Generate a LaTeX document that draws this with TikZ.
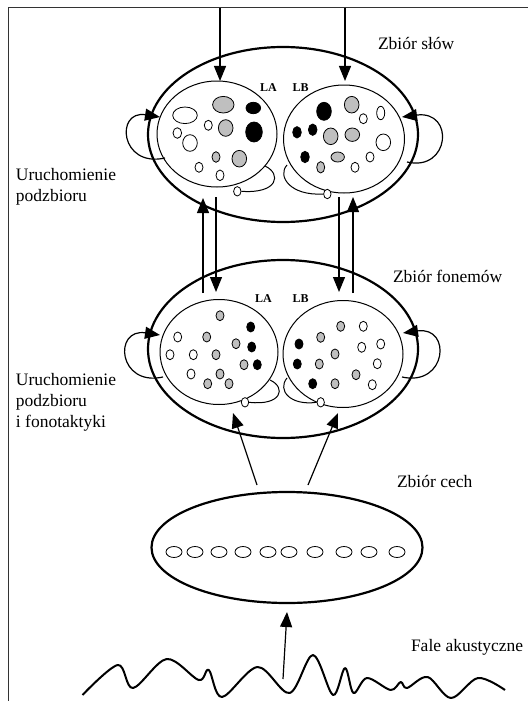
\documentclass[tikz,border=0pt]{standalone}
\usepackage{fontspec}
\setmainfont{Liberation Serif}
\usetikzlibrary{arrows.meta,shapes.geometric}
\newcommand\mydot[5]{\path[#1] (#2,#3) ellipse [x radius=#4pt, y radius=#5pt];}
\begin{document}
\begin{tikzpicture}[x=1pt,y=-1pt,
  big/.style={draw, ellipse, line width=2.2pt, inner sep=0pt, outer sep=0pt},
  inner/.style={draw, ellipse, line width=1pt, inner sep=0pt, outer sep=0pt},
  arr/.style={line width=1.2pt, -{Triangle[length=15pt,width=12pt]}},
  ln/.style={line width=1pt},
  wd/.style={draw, fill=white, line width=0.8pt},
  gd/.style={draw, fill=gray!50, line width=0.8pt},
  bd/.style={draw, fill=black, line width=0.8pt},
  lbl/.style={font=\fontsize{17.5}{21}\selectfont, inner sep=0pt, outer sep=0pt},
  lab/.style={font=\fontsize{12}{14}\selectfont\bfseries, inner sep=0pt, anchor=base west}
]
\useasboundingbox (0,0) rectangle (528,701);
% frame
\coordinate (fbl) at (8,701);
\coordinate (ftl) at (8,8);
\coordinate (ftr) at (528,8);
\draw[line width=1pt, black!80] (fbl) -- (ftl) -- (ftr);

% big ellipses
\node[big, minimum width=270pt, minimum height=175pt] (W) at (283,134.5) {};
\node[big, minimum width=270pt, minimum height=178pt] (P) at (283,349) {};
\node[big, minimum width=271pt, minimum height=111pt] (F) at (287,547.5) {};

% inner ellipses
\node[inner, minimum width=120pt, minimum height=106pt] (WA) at (217,134) {};
\node[inner, minimum width=121pt, minimum height=108pt] (WB) at (344,139) {};
\node[inner, minimum width=118pt, minimum height=105pt] (PA) at (219,352) {};
\node[inner, minimum width=120pt, minimum height=107pt] (PB) at (343,354) {};

% labels
\node[lab] (la1) at (260,91) {LA};
\node[lab] (lb1) at (292.5,91) {LB};
\node[lab] (la2) at (255,302.5) {LA};
\node[lab] (lb2) at (292.5,302.5) {LB};

\node[lbl, anchor=base west] (tw) at (378,50) {Zbiór słów};
\node[lbl, anchor=base west] (tp) at (393,282) {Zbiór fonemów};
\node[lbl, anchor=base west] (tc) at (397,487) {Zbiór cech};
\node[lbl, anchor=base west] (tf) at (411,651) {Fale akustyczne};
\node[lbl, anchor=north west, align=left] (tu1) at (16,168) {Uruchomienie\\podzbioru};
\node[lbl, anchor=north west, align=left] (tu2) at (16,373) {Uruchomienie\\podzbioru\\i fonotaktyki};

% dots top-left
\mydot{wd}{185}{115.3}{12.3}{8.3}
\mydot{gd}{223.3}{104.7}{10.7}{8.3}
\mydot{bd}{253.3}{108}{7.3}{5.7}
\mydot{wd}{208.3}{125.3}{4}{5}
\mydot{gd}{225.7}{128}{7.3}{8.3}
\mydot{bd}{254}{132}{8.3}{10}
\mydot{wd}{177.3}{133}{4.3}{5.3}
\mydot{wd}{190}{143}{7.3}{8.3}
\mydot{gd}{216}{157}{4}{5.3}
\mydot{gd}{239.3}{158.7}{7.3}{8.3}
\mydot{wd}{199}{167.3}{4}{5}
\mydot{wd}{220}{175.3}{4}{5.3}
% dots top-right
\mydot{bd}{324}{111.3}{7.3}{9}
\mydot{gd}{351.7}{104.7}{7.3}{8.3}
\mydot{wd}{363.3}{118.7}{4}{5}
\mydot{wd}{380.7}{113}{4}{6.7}
\mydot{bd}{297}{132.3}{4.3}{5.7}
\mydot{bd}{312.7}{129.7}{4.3}{5.7}
\mydot{gd}{330.7}{136.3}{7.3}{8.3}
\mydot{gd}{352.3}{134.7}{7.3}{6.7}
\mydot{wd}{383.3}{142.3}{7.3}{8.3}
\mydot{bd}{305}{157}{4.3}{5.7}
\mydot{gd}{337.7}{157}{6.7}{5}
\mydot{wd}{370}{157}{4}{5}
\mydot{gd}{320.7}{167.3}{4}{5.7}
\mydot{wd}{355}{167.3}{4}{5}
% dots middle-left
\mydot{gd}{220}{315.7}{4}{5}
\mydot{bd}{250.7}{327}{4}{5}
\mydot{wd}{177.7}{337}{4}{5}
\mydot{gd}{206.7}{337}{4}{5}
\mydot{gd}{236}{343.7}{4}{5}
\mydot{bd}{251.7}{347}{4}{5}
\mydot{wd}{170}{354.7}{4}{5}
\mydot{wd}{193.3}{354.7}{4}{5}
\mydot{gd}{216}{354.7}{4}{5}
\mydot{gd}{244}{364.7}{4}{5}
\mydot{bd}{257.3}{364.7}{4}{5}
\mydot{wd}{191}{374}{4}{5}
\mydot{gd}{220}{374}{4}{5}
\mydot{gd}{207.7}{383.7}{4}{5}
\mydot{gd}{229}{383.7}{4}{5}
% dots middle-right
\mydot{gd}{340.7}{326.3}{4}{5}
\mydot{wd}{363.3}{326.3}{4}{5}
\mydot{gd}{320.7}{337.3}{4}{5}
\mydot{bd}{299}{344}{4}{5}
\mydot{wd}{361.7}{347.3}{4}{5}
\mydot{wd}{380.7}{344}{4}{5}
\mydot{gd}{335}{354}{4}{5}
\mydot{bd}{297.3}{364}{4}{5}
\mydot{gd}{319.3}{364}{4}{5}
\mydot{wd}{377.3}{363.7}{4}{5}
\mydot{gd}{356}{374.7}{4}{5}
\mydot{bd}{312.7}{383.7}{4}{5}
\mydot{gd}{335}{383.7}{4}{5}
\mydot{wd}{372.3}{384.7}{4}{5}
% feature dots
\foreach \xx in {174,195,219,243,268,289,315,344,369,397}
  \path[wd] (\xx,552) ellipse [x radius=8pt, y radius=5.5pt];

% inner small loops with small circles
\node[wd, ellipse, inner sep=0pt, minimum width=7.4pt, minimum height=9.4pt] (cWA) at (237.3,191.3) {};
\node[wd, ellipse, inner sep=0pt, minimum width=7.4pt, minimum height=9.4pt] (cWB) at (327.3,194) {};
\node[wd, ellipse, inner sep=0pt, minimum width=7.4pt, minimum height=9.4pt] (cPA) at (245,402.3) {};
\node[wd, ellipse, inner sep=0pt, minimum width=7.4pt, minimum height=9.4pt] (cPB) at (320.7,402.3) {};
\coordinate (sWA) at (265,166);
\coordinate (sWB) at (287,165);
\coordinate (sPA) at (270,380);
\coordinate (sPB) at (287,378);
\draw[ln] (sWA) .. controls (282,174) and (278,194) .. (cWA.east);
\draw[ln] (sWB) .. controls (277,176) and (290,196) .. (cWB.west);
\draw[ln] (sPA) .. controls (287,388) and (281,406) .. (cPA.east);
\draw[ln] (sPB) .. controls (277,390) and (290,406) .. (cPB.west);

% outer loops
\coordinate (lW1) at (165,158); \coordinate (lW1e) at (160,117);
\coordinate (lW2) at (407,162); \coordinate (lW2e) at (402,117);
\coordinate (lP1) at (163,377); \coordinate (lP1e) at (160,335);
\coordinate (lP2) at (402,377); \coordinate (lP2e) at (403,333);
\draw[arr] (lW1) .. controls (120,168) and (115,110) .. (lW1e);
\draw[arr] (lW2) .. controls (450,172) and (455,110) .. (lW2e);
\draw[arr] (lP1) .. controls (118,387) and (113,328) .. (lP1e);
\draw[arr] (lP2) .. controls (447,387) and (452,326) .. (lP2e);

% arrows from top
\coordinate (t1) at (220,8); \coordinate (t1e) at (220,81);
\coordinate (t2) at (345,8); \coordinate (t2e) at (345,81);
\draw[arr] (t1) -- (t1e);
\draw[arr] (t2) -- (t2e);

% arrows between words and phonemes
\coordinate (a1s) at (203,293); \coordinate (a1e) at (203,198);
\coordinate (a2s) at (216,197); \coordinate (a2e) at (216,292);
\coordinate (a3s) at (339,197); \coordinate (a3e) at (339,292);
\coordinate (a4s) at (353,293); \coordinate (a4e) at (353,197);
\draw[arr] (a1s) -- (a1e);
\draw[arr] (a2s) -- (a2e);
\draw[arr] (a3s) -- (a3e);
\draw[arr] (a4s) -- (a4e);

% arrows from features to phonemes
\coordinate (b1s) at (257,485); \coordinate (b1e) at (233,413);
\coordinate (b2s) at (308,485); \coordinate (b2e) at (338,413);
\draw[arr] (b1s) -- (b1e);
\draw[arr] (b2s) -- (b2e);

% acoustic wave
\draw[line width=2pt, line join=round] plot[smooth, tension=0.55] coordinates {
 (82.5,695) (117.8,665) (133,688) (166.7,659) (198.7,680) (208.8,670) (222,697)
 (257.6,667) (289.6,693) (313,655) (333,695) (345,668) (353.5,693) (367,678)
 (390.6,690) (400.7,682) (407,688) (427.6,677) (451,698) (478,678) (505,690)};
\coordinate (w0) at (283,679);
\draw[arr] (w0) -- (F.south |- 0,612);
\end{tikzpicture}
\end{document}
